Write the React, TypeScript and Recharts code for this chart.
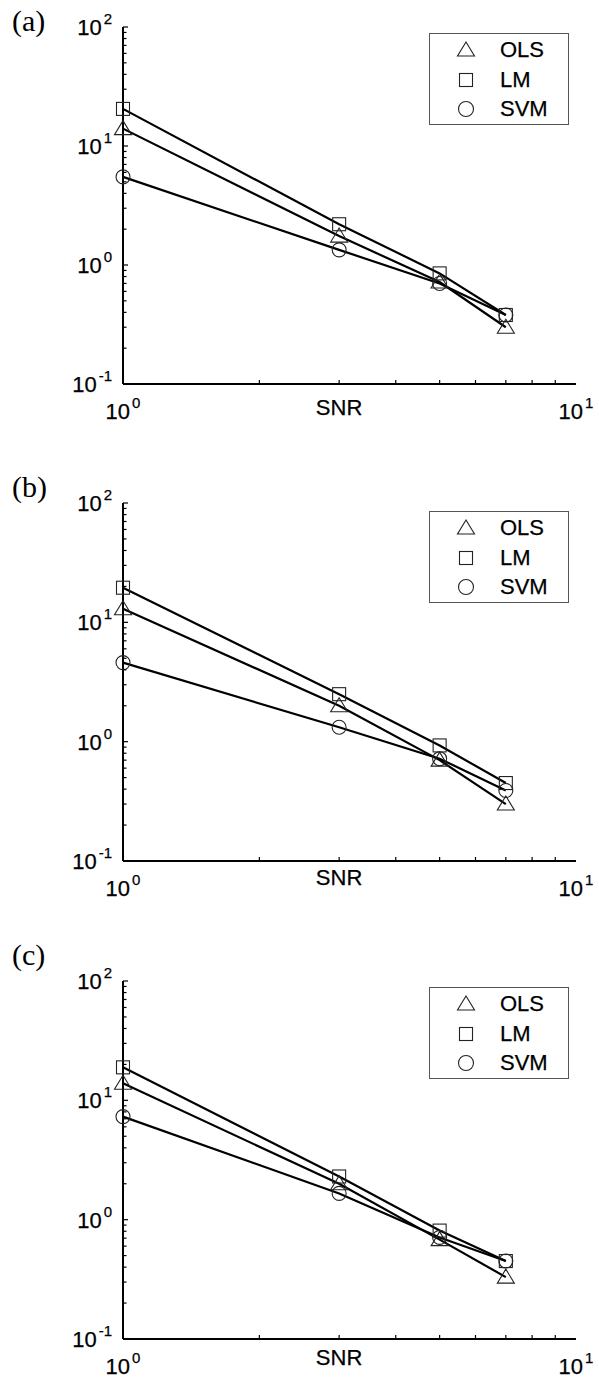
import React from "react";
import { LineChart, Line, XAxis, YAxis, Legend } from "recharts";

// SNR values where each method was evaluated
const snr = [1, 3, 5, 7];
const seriesNames = ["OLS", "LM", "SVM"];

// panel (a)
const olsA = [14, 1.75, 0.72, 0.3];
const lmA = [20.5, 2.2, 0.85, 0.38];
const svmA = [5.5, 1.34, 0.7, 0.38];

// panel (b)
const olsB = [13, 2.0, 0.7, 0.3];
const lmB = [19.5, 2.5, 0.93, 0.45];
const svmB = [4.6, 1.32, 0.72, 0.39];

// panel (c)
const olsC = [13.9, 2.0, 0.68, 0.33];
const lmC = [18.9, 2.3, 0.81, 0.45];
const svmC = [7.3, 1.66, 0.71, 0.45];

const panelLabels = ["(a)", "(b)", "(c)"];

const xTicks = [1, 2, 3, 4, 5, 6, 7, 8, 9, 10];
const xExponents: Record<string, string> = { "1": "0", "10": "1" };
const yTicks = [
  0.1, 0.2, 0.3, 0.4, 0.5, 0.6, 0.7, 0.8, 0.9,
  1, 2, 3, 4, 5, 6, 7, 8, 9,
  10, 20, 30, 40, 50, 60, 70, 80, 90, 100,
];
const yExponents: Record<string, string> = { "0.1": "-1", "1": "0", "10": "1", "100": "2" };

const SANS = '"Liberation Sans", Arial, Helvetica, sans-serif';
const SERIF = '"Liberation Serif", "Times New Roman", serif';
const AXIS = { stroke: "#000", strokeWidth: 2 };
const MARK_STROKE = "#222";

const shapes: Record<string, string> = { OLS: "triangle", LM: "square", SVM: "circle" };

function Marker({ shape, cx, cy, big }: { shape: string; cx: number; cy: number; big?: boolean }) {
  const common = { fill: "none", stroke: MARK_STROKE, strokeWidth: 1.1 };
  if (shape === "triangle") {
    return (
      <polygon
        points={`${cx},${cy - 8} ${cx - 8.5},${cy + 6} ${cx + 8.5},${cy + 6}`}
        {...common}
      />
    );
  }
  if (shape === "square") {
    return <rect x={cx - 6.5} y={cy - 6.5} width={13} height={13} {...common} />;
  }
  return <circle cx={cx} cy={cy} r={big ? 7.5 : 7} {...common} />;
}

function PowerLabel({ x, y, exp, anchor }: { x: number; y: number; exp: string; anchor: "middle" | "end" }) {
  return (
    <text x={x} y={y} textAnchor={anchor} fontFamily={SANS} fontSize={22} fill="#000" stroke="#000" strokeWidth={0.25}>
      <tspan>10</tspan>
      <tspan dx={2} dy={-11} fontSize={15}>
        {exp}
      </tspan>
    </text>
  );
}

const BottomTick = (props: any) => {
  const { x, y, payload } = props;
  const exp = xExponents[String(payload.value)];
  return (
    <g>
      {!exp && <line x1={x} x2={x} y1={y} y2={y - 4} stroke="#000" strokeWidth={1.2} />}
      {exp && <PowerLabel x={x} y={y + 35} exp={exp} anchor="middle" />}
    </g>
  );
};

const TopTick = (props: any) => {
  const { x, y, payload } = props;
  if (xExponents[String(payload.value)]) return <g />;
  return <line x1={x} x2={x} y1={y} y2={y + 4} stroke="#000" strokeWidth={1.2} />;
};

const LeftTick = (props: any) => {
  const { x, y, payload } = props;
  const exp = yExponents[String(payload.value)];
  const len = exp ? 5 : 3.5;
  return (
    <g>
      <line x1={x} x2={x + len} y1={y} y2={y} stroke="#000" strokeWidth={1.2} />
      {exp && <PowerLabel x={x - 11} y={y + 8} exp={exp} anchor="end" />}
    </g>
  );
};

const RightTick = (props: any) => {
  const { x, y, payload } = props;
  const len = yExponents[String(payload.value)] ? 5 : 3.5;
  return <line x1={x} x2={x - len} y1={y} y2={y} stroke="#000" strokeWidth={1.2} />;
};

const SnrLabel = (props: any) => {
  const { viewBox, dy } = props;
  return (
    <text
      x={viewBox.x + viewBox.width * 0.477}
      y={viewBox.y + dy}
      textAnchor="middle"
      fontFamily={SANS}
      fontSize={22}
      fill="#000"
      stroke="#000"
      strokeWidth={0.25}
    >
      SNR
    </text>
  );
};

const LegendBox = (props: any) => {
  const { payload = [] } = props;
  const entries = [...payload].sort(
    (a: any, b: any) => seriesNames.indexOf(a.value) - seriesNames.indexOf(b.value)
  );
  return (
    <div
      style={{
        position: "relative",
        width: 140,
        height: 92,
        boxSizing: "border-box",
        border: "1px solid #555",
        background: "#fff",
      }}
    >
      {entries.map((entry: any, i: number) => (
        <div
          key={entry.value}
          style={{ position: "absolute", left: 0, top: 16 + 29.5 * i - 12, height: 24, width: 138 }}
        >
          <svg width={24} height={24} style={{ position: "absolute", left: 24, top: 0 }}>
            <Marker shape={shapes[entry.value]} cx={12} cy={12} big />
          </svg>
          <span
            style={{
              position: "absolute",
              left: 70,
              top: 0,
              lineHeight: "24px",
              fontFamily: SANS,
              fontSize: 22,
              color: "#000",
              WebkitTextStroke: "0.25px #000",
            }}
          >
            {entry.value}
          </span>
        </div>
      ))}
    </div>
  );
};

const panels = [
  { label: panelLabels[0], ols: olsA, lm: lmA, svm: svmA, plotTop: 27, plotHeight: 357, labelBase: 31, snrDy: 31, legendDy: 6 },
  { label: panelLabels[1], ols: olsB, lm: lmB, svm: svmB, plotTop: 503, plotHeight: 358, labelBase: 497, snrDy: 24, legendDy: 8 },
  { label: panelLabels[2], ols: olsC, lm: lmC, svm: svmC, plotTop: 981, plotHeight: 358, labelBase: 965, snrDy: 26, legendDy: 6 },
];

const TOP = 27;
const X_AXIS_H = 44;

function Panel({ p }: { p: (typeof panels)[number] }) {
  const rows = snr.map((s, i) => ({ snr: s, OLS: p.ols[i], LM: p.lm[i], SVM: p.svm[i] }));
  const chartTop = p.plotTop - TOP;
  const chartH = TOP + p.plotHeight + X_AXIS_H;
  return (
    <div style={{ position: "absolute", left: 0, top: chartTop, width: 599, height: chartH }}>
      <LineChart width={599} height={chartH} data={rows} margin={{ top: TOP, right: 23, bottom: 0, left: 73 }}>
        <XAxis
          dataKey="snr"
          type="number"
          scale="log"
          domain={[1, 10]}
          ticks={xTicks}
          interval={0}
          height={X_AXIS_H}
          tickSize={0}
          tickMargin={0}
          tickLine={false}
          axisLine={AXIS}
          tick={BottomTick}
          label={<SnrLabel dy={p.snrDy} />}
        />
        <XAxis
          xAxisId="top"
          orientation="top"
          dataKey="snr"
          type="number"
          scale="log"
          domain={[1, 10]}
          ticks={xTicks}
          interval={0}
          height={0}
          tickSize={0}
          tickMargin={0}
          tickLine={false}
          axisLine={AXIS}
          tick={TopTick}
        />
        <YAxis
          type="number"
          scale="log"
          domain={[0.1, 100]}
          ticks={yTicks}
          interval={0}
          width={50}
          tickSize={0}
          tickMargin={0}
          tickLine={false}
          axisLine={AXIS}
          tick={LeftTick}
        />
        <YAxis
          yAxisId="right"
          orientation="right"
          type="number"
          scale="log"
          domain={[0.1, 100]}
          ticks={yTicks}
          interval={0}
          width={0}
          tickSize={0}
          tickMargin={0}
          tickLine={false}
          axisLine={AXIS}
          tick={RightTick}
        />
        <Legend
          layout="horizontal"
          align="center"
          verticalAlign="middle"
          content={<LegendBox />}
          wrapperStyle={{ position: "absolute", left: 429, top: TOP + p.legendDy, width: 140, height: 92 }}
        />
        {seriesNames.map((name) => (
          <Line
            key={name}
            dataKey={name}
            name={name}
            type="linear"
            stroke="#000"
            strokeWidth={2.2}
            isAnimationActive={false}
            dot={(d: any) => (
              <Marker key={`${name}-${d.index}`} shape={shapes[name]} cx={d.cx} cy={d.cy} />
            )}
            activeDot={false}
          />
        ))}
      </LineChart>
    </div>
  );
}

export default function App() {
  return (
    <div style={{ position: "absolute", left: 0, top: 0, width: 599, height: 1378, overflow: "hidden", background: "#fff" }}>
      {panels.map((p) => (
        <React.Fragment key={p.label}>
          <div
            style={{
              position: "absolute",
              left: 12,
              top: p.labelBase - 25,
              fontFamily: SERIF,
              fontSize: 30,
              lineHeight: "30px",
              color: "#000",
            }}
          >
            {p.label}
          </div>
          <Panel p={p} />
        </React.Fragment>
      ))}
    </div>
  );
}
